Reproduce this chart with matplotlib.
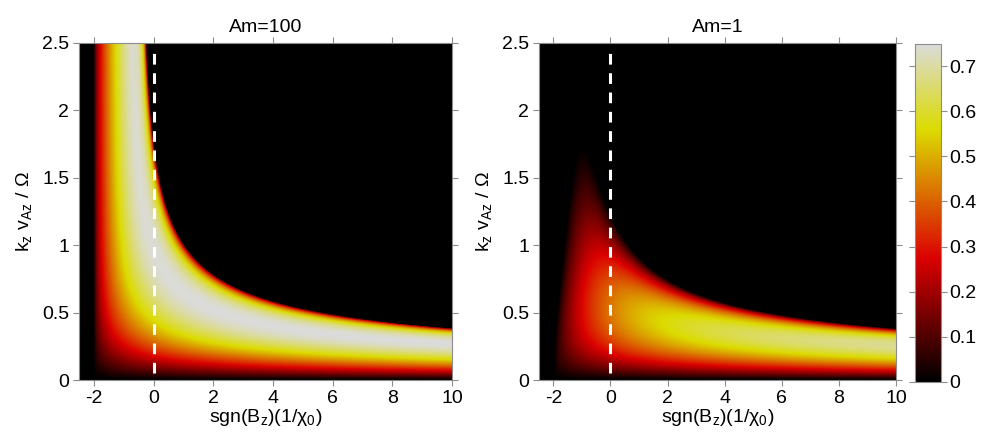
import numpy as np
import matplotlib
matplotlib.use("Agg")
import matplotlib.pyplot as plt
from matplotlib.colors import ListedColormap

plt.rcParams["font.family"] = ["Liberation Sans", "DejaVu Sans"]
plt.rcParams["mathtext.fontset"] = "custom"
plt.rcParams["mathtext.rm"] = "Liberation Sans"
plt.rcParams["mathtext.it"] = "Liberation Sans"
plt.rcParams["mathtext.bf"] = "Liberation Sans:bold"
plt.rcParams["lines.scale_dashes"] = False
plt.rcParams["axes.unicode_minus"] = False

# ── data / parameters ──────────────────────────────────────────────
am_values = [100, 1]                 # ambipolar Elsasser number per panel
panel_titles = ["Am=100", "Am=1"]
hall_range = (-2.5, 10.0)            # sgn(Bz)(1/chi0)
k_range = (0.0, 2.5)                 # kz vAz / Omega
q_shear = 1.5                        # Keplerian shear
x_ticks = [-2, 0, 2, 4, 6, 8, 10]
y_ticks = [0, 0.5, 1, 1.5, 2, 2.5]
y_ticklabels = ["0", "0.5", "1", "1.5", "2", "2.5"]
cbar_ticks = [0, 0.1, 0.2, 0.3, 0.4, 0.5, 0.6, 0.7]
growth_max = 0.75


def growth_rate(am, nx=520, nk=320):
    """Max growth rate of the Hall + ambipolar MRI (vertical field, kz only)."""
    h = np.linspace(*hall_range, nx)
    k = np.linspace(*k_range, nk)
    H, K = np.meshgrid(h, k)
    p = 1.0 / am
    k2 = K**2
    ik = 1j * K
    A = np.zeros(H.shape + (4, 4), dtype=complex)
    A[..., 0, 1] = 2.0
    A[..., 0, 2] = ik
    A[..., 1, 0] = -(2.0 - q_shear)
    A[..., 1, 3] = ik
    A[..., 2, 0] = ik
    A[..., 2, 2] = -p * k2
    A[..., 2, 3] = -H * k2
    A[..., 3, 1] = ik
    A[..., 3, 2] = H * k2 - q_shear
    A[..., 3, 3] = -p * k2
    ev = np.linalg.eigvals(A)
    return np.clip(ev.real.max(axis=-1), 0, None)


# 'hot'-like table, dimmed so the top is light grey
f = np.linspace(0, 1, 256)
rgb = np.stack([np.clip(f / 0.365, 0, 1),
                np.clip((f - 0.365) / 0.381, 0, 1),
                np.clip((f - 0.746) / 0.254, 0, 1)], axis=1) * 0.86
cmap = ListedColormap(rgb)

fig = plt.figure(figsize=(9.81, 4.43), dpi=100)
ax_pos = [[0.0805, 0.1422, 0.3803, 0.7608], [0.5495, 0.1422, 0.3639, 0.7608]]
spine_col = "#8c8c8c"
fs = 14

for am, title, pos in zip(am_values, panel_titles, ax_pos):
    ax = fig.add_axes(pos)
    sig = growth_rate(am)
    im = ax.imshow(sig, origin="lower", aspect="auto", cmap=cmap,
                   vmin=0, vmax=growth_max, interpolation="bilinear",
                   extent=[*hall_range, *k_range])
    ax.axvline(0, ymin=0.02, ymax=0.985, color="white", lw=2.2,
               dashes=(7.7, 6.2))
    ax.set_xlim(*hall_range)
    ax.set_ylim(*k_range)
    ax.set_xticks(x_ticks)
    ax.set_yticks(y_ticks)
    ax.set_yticklabels(y_ticklabels)
    ax.tick_params(direction="out", length=4, width=0.8, color=spine_col,
                   top=True, right=True, labelsize=fs, pad=3)
    for sp in ax.spines.values():
        sp.set_edgecolor(spine_col)
        sp.set_linewidth(0.8)
    ax.set_title(title, fontsize=fs, pad=8)
    ax.set_xlabel(r"sgn(B$_z$)(1/$\chi_0$)", fontsize=fs, labelpad=0)
    ax.set_ylabel(r"k$_z$ v$_{Az}$ / $\Omega$", fontsize=fs, labelpad=6)

cax = fig.add_axes([0.9327, 0.1377, 0.0265, 0.7641])
cb = fig.colorbar(im, cax=cax, ticks=cbar_ticks)
cb.ax.set_yticklabels([f"{t:g}" for t in cbar_ticks])
cb.outline.set_edgecolor(spine_col)
cb.outline.set_linewidth(0.8)
cax.tick_params(direction="out", length=4, width=0.8, color=spine_col,
                left=True, right=True, labelsize=fs, pad=2)

fig.savefig("out.png", dpi=100)
